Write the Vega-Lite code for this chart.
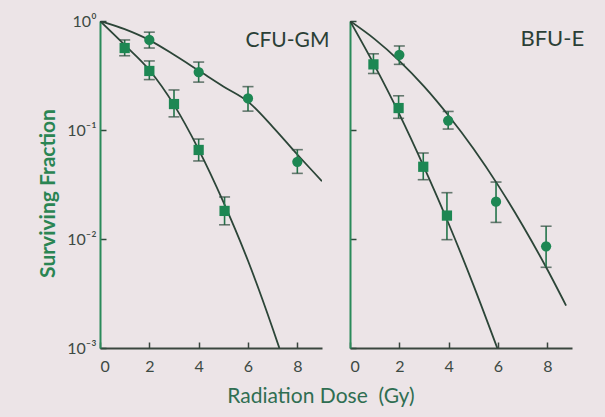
{
  "$schema": "https://vega.github.io/schema/vega-lite/v6.json",
  "background": "#ece4e7",
  "padding": {"left": 37, "top": 13, "right": 28, "bottom": 20},
  "spacing": 28,
  "bounds": "flush",
  "config": {
    "view": {"stroke": null},
    "font": "Lato",
    "axisX": {
      "title": null,
      "grid": false,
      "domainColor": "#3a463f",
      "domainWidth": 2,
      "tickColor": "#3a463f",
      "tickWidth": 1.5,
      "labelPadding": 16,
      "labelFontSize": 16,
      "labelColor": "#3d4a44",
      "labelFont": "Lato"
    },
    "axisY": {
      "grid": false,
      "domainColor": "#2a8a5a",
      "domainWidth": 2,
      "tickColor": "#2f4a3c",
      "tickWidth": 1.5,
      "tickSize": -6,
      "labelPadding": 10,
      "labelFontSize": 16,
      "labelColor": "#3d4a44",
      "labelFont": "Lato"
    }
  },
  "title": {
    "text": "Radiation Dose\u00a0\u00a0(Gy)",
    "orient": "bottom",
    "anchor": "middle",
    "fontSize": 21,
    "fontWeight": "normal",
    "font": "Lato",
    "color": "#2f6e52",
    "offset": 12,
    "dx": 10
  },
  "datasets": {
    "points": [
      {"panel": "CFU-GM", "cell": "sq", "dose": 1, "sf": 0.565, "lo": 0.48, "hi": 0.67},
      {"panel": "CFU-GM", "cell": "sq", "dose": 2, "sf": 0.348, "lo": 0.29, "hi": 0.43},
      {"panel": "CFU-GM", "cell": "sq", "dose": 3, "sf": 0.173, "lo": 0.132, "hi": 0.233},
      {"panel": "CFU-GM", "cell": "sq", "dose": 4, "sf": 0.0656, "lo": 0.052, "hi": 0.0826},
      {"panel": "CFU-GM", "cell": "sq", "dose": 5.05, "sf": 0.0181, "lo": 0.0135, "hi": 0.0243},
      {"panel": "CFU-GM", "cell": "ci", "dose": 2, "sf": 0.67, "lo": 0.565, "hi": 0.79},
      {"panel": "CFU-GM", "cell": "ci", "dose": 4, "sf": 0.34, "lo": 0.275, "hi": 0.42},
      {"panel": "CFU-GM", "cell": "ci", "dose": 6, "sf": 0.195, "lo": 0.149, "hi": 0.25},
      {"panel": "CFU-GM", "cell": "ci", "dose": 8, "sf": 0.051, "lo": 0.04, "hi": 0.066},
      {"panel": "BFU-E", "cell": "sq", "dose": 0.95, "sf": 0.4, "lo": 0.33, "hi": 0.5},
      {"panel": "BFU-E", "cell": "sq", "dose": 1.97, "sf": 0.159, "lo": 0.128, "hi": 0.206},
      {"panel": "BFU-E", "cell": "sq", "dose": 2.97, "sf": 0.046, "lo": 0.035, "hi": 0.0615},
      {"panel": "BFU-E", "cell": "sq", "dose": 3.93, "sf": 0.0164, "lo": 0.00986, "hi": 0.0266},
      {"panel": "BFU-E", "cell": "ci", "dose": 2, "sf": 0.49, "lo": 0.4, "hi": 0.59},
      {"panel": "BFU-E", "cell": "ci", "dose": 3.98, "sf": 0.122, "lo": 0.102, "hi": 0.148},
      {"panel": "BFU-E", "cell": "ci", "dose": 5.92, "sf": 0.022, "lo": 0.0142, "hi": 0.0333},
      {"panel": "BFU-E", "cell": "ci", "dose": 7.95, "sf": 0.00857, "lo": 0.0055, "hi": 0.0131}
    ],
    "curves": [
      {"panel": "CFU-GM", "cell": "ci", "dose": 0, "sf": 1},
      {"panel": "CFU-GM", "cell": "ci", "dose": 1, "sf": 0.841},
      {"panel": "CFU-GM", "cell": "ci", "dose": 2, "sf": 0.668},
      {"panel": "CFU-GM", "cell": "ci", "dose": 3, "sf": 0.49},
      {"panel": "CFU-GM", "cell": "ci", "dose": 4, "sf": 0.351},
      {"panel": "CFU-GM", "cell": "ci", "dose": 5, "sf": 0.251},
      {"panel": "CFU-GM", "cell": "ci", "dose": 6, "sf": 0.182},
      {"panel": "CFU-GM", "cell": "ci", "dose": 7, "sf": 0.107},
      {"panel": "CFU-GM", "cell": "ci", "dose": 8, "sf": 0.0596},
      {"panel": "CFU-GM", "cell": "ci", "dose": 9, "sf": 0.0339},
      {"panel": "CFU-GM", "cell": "sq", "dose": 0, "sf": 1},
      {"panel": "CFU-GM", "cell": "sq", "dose": 1, "sf": 0.603},
      {"panel": "CFU-GM", "cell": "sq", "dose": 2, "sf": 0.355},
      {"panel": "CFU-GM", "cell": "sq", "dose": 3, "sf": 0.17},
      {"panel": "CFU-GM", "cell": "sq", "dose": 4, "sf": 0.0661},
      {"panel": "CFU-GM", "cell": "sq", "dose": 5, "sf": 0.0219},
      {"panel": "CFU-GM", "cell": "sq", "dose": 6, "sf": 0.00631},
      {"panel": "CFU-GM", "cell": "sq", "dose": 7, "sf": 0.00151},
      {"panel": "CFU-GM", "cell": "sq", "dose": 7.27, "sf": 0.001},
      {"panel": "BFU-E", "cell": "ci", "dose": 0, "sf": 1},
      {"panel": "BFU-E", "cell": "ci", "dose": 1, "sf": 0.682},
      {"panel": "BFU-E", "cell": "ci", "dose": 2, "sf": 0.431},
      {"panel": "BFU-E", "cell": "ci", "dose": 3, "sf": 0.251},
      {"panel": "BFU-E", "cell": "ci", "dose": 4, "sf": 0.135},
      {"panel": "BFU-E", "cell": "ci", "dose": 5, "sf": 0.0676},
      {"panel": "BFU-E", "cell": "ci", "dose": 6, "sf": 0.0312},
      {"panel": "BFU-E", "cell": "ci", "dose": 7, "sf": 0.0133},
      {"panel": "BFU-E", "cell": "ci", "dose": 8, "sf": 0.00525},
      {"panel": "BFU-E", "cell": "ci", "dose": 8.76, "sf": 0.00245},
      {"panel": "BFU-E", "cell": "sq", "dose": 0, "sf": 1},
      {"panel": "BFU-E", "cell": "sq", "dose": 1, "sf": 0.389},
      {"panel": "BFU-E", "cell": "sq", "dose": 2, "sf": 0.14},
      {"panel": "BFU-E", "cell": "sq", "dose": 3, "sf": 0.0457},
      {"panel": "BFU-E", "cell": "sq", "dose": 4, "sf": 0.0138},
      {"panel": "BFU-E", "cell": "sq", "dose": 5, "sf": 0.0038},
      {"panel": "BFU-E", "cell": "sq", "dose": 5.97, "sf": 0.001}
    ],
    "labels": [
      {"panel": "CFU-GM", "dose": 7.6, "sf": 0.656, "label": "CFU-GM"},
      {"panel": "BFU-E", "dose": 8.2, "sf": 0.688, "label": "BFU-E"}
    ]
  },
  "hconcat": [
    {
      "width": 222,
      "height": 327,
      "layer": [
        {
          "data": {"name": "curves"},
          "transform": [{"filter": "datum.panel == 'CFU-GM'"}],
          "mark": {"type": "line", "color": "#2c4538", "strokeWidth": 1.8, "interpolate": "monotone", "clip": true},
          "encoding": {
            "x": {"field": "dose", "type": "quantitative", "scale": {"domain": [0, 9], "nice": false},
                  "axis": {"values": [0, 1, 2, 3, 4, 5, 6, 7, 8], "labelExpr": "datum.value % 2 == 0 ? datum.label : ''",
                           "tickSize": {"condition": {"test": "datum.value % 2 == 0", "value": -6}, "value": -3}}},
            "y": {"field": "sf", "type": "quantitative", "scale": {"type": "log", "domain": [0.001, 1], "nice": false},
                  "axis": {"values": [1, 0.1, 0.01, 0.001],
                           "labelExpr": "datum.value > 0.5 ? '10⁰' : datum.value > 0.05 ? '10⁻¹' : datum.value > 0.005 ? '10⁻²' : '10⁻³'",
                           "title": "Surviving Fraction", "titleFontSize": 21, "titleFontWeight": "bold", "titleColor": "#2a8553", "titleFont": "Lato", "titlePadding": 8, "titleY": 172}},
            "detail": {"field": "cell"}
          }
        },
        {
          "data": {"name": "points"},
          "transform": [{"filter": "datum.panel == 'CFU-GM'"}],
          "mark": {"type": "rule", "color": "#23744a", "strokeWidth": 1.6},
          "encoding": {
            "x": {"field": "dose", "type": "quantitative"},
            "y": {"field": "lo", "type": "quantitative"},
            "y2": {"field": "hi"}
          }
        },
        {
          "data": {"name": "points"},
          "transform": [{"filter": "datum.panel == 'CFU-GM'"}],
          "mark": {"type": "tick", "orient": "horizontal", "color": "#2c4a3c", "size": 11, "thickness": 1.6},
          "encoding": {
            "x": {"field": "dose", "type": "quantitative"},
            "y": {"field": "lo", "type": "quantitative"}
          }
        },
        {
          "data": {"name": "points"},
          "transform": [{"filter": "datum.panel == 'CFU-GM'"}],
          "mark": {"type": "tick", "orient": "horizontal", "color": "#2c4a3c", "size": 11, "thickness": 1.6},
          "encoding": {
            "x": {"field": "dose", "type": "quantitative"},
            "y": {"field": "hi", "type": "quantitative"}
          }
        },
        {
          "data": {"name": "points"},
          "transform": [{"filter": "datum.panel == 'CFU-GM'"}],
          "mark": {"type": "point", "filled": true, "color": "#1d8753", "opacity": 1},
          "encoding": {
            "x": {"field": "dose", "type": "quantitative"},
            "y": {"field": "sf", "type": "quantitative"},
            "shape": {"field": "cell", "type": "nominal", "scale": {"domain": ["ci", "sq"], "range": ["circle", "square"]}, "legend": null},
            "size": {"field": "cell", "type": "nominal", "scale": {"domain": ["ci", "sq"], "range": [105, 105]}, "legend": null}
          }
        },
        {
          "data": {"name": "labels"},
          "transform": [{"filter": "datum.panel == 'CFU-GM'"}],
          "mark": {"type": "text", "fontSize": 21, "font": "Lato", "color": "#2b3f36", "align": "center", "baseline": "middle"},
          "encoding": {
            "x": {"field": "dose", "type": "quantitative"},
            "y": {"field": "sf", "type": "quantitative"},
            "text": {"field": "label"}
          }
        }
      ]
    },
    {
      "width": 222,
      "height": 327,
      "layer": [
        {
          "data": {"name": "curves"},
          "transform": [{"filter": "datum.panel == 'BFU-E'"}],
          "mark": {"type": "line", "color": "#2c4538", "strokeWidth": 1.8, "interpolate": "monotone", "clip": true},
          "encoding": {
            "x": {"field": "dose", "type": "quantitative", "scale": {"domain": [0, 9], "nice": false},
                  "axis": {"values": [0, 1, 2, 3, 4, 5, 6, 7, 8], "labelExpr": "datum.value % 2 == 0 ? datum.label : ''",
                           "tickSize": {"condition": {"test": "datum.value % 2 == 0", "value": -6}, "value": -3}}},
            "y": {"field": "sf", "type": "quantitative", "scale": {"type": "log", "domain": [0.001, 1], "nice": false},
                  "axis": {"values": [1, 0.1, 0.01, 0.001], "title": null, "labels": false}},
            "detail": {"field": "cell"}
          }
        },
        {
          "data": {"name": "points"},
          "transform": [{"filter": "datum.panel == 'BFU-E'"}],
          "mark": {"type": "rule", "color": "#23744a", "strokeWidth": 1.6},
          "encoding": {
            "x": {"field": "dose", "type": "quantitative"},
            "y": {"field": "lo", "type": "quantitative"},
            "y2": {"field": "hi"}
          }
        },
        {
          "data": {"name": "points"},
          "transform": [{"filter": "datum.panel == 'BFU-E'"}],
          "mark": {"type": "tick", "orient": "horizontal", "color": "#2c4a3c", "size": 11, "thickness": 1.6},
          "encoding": {
            "x": {"field": "dose", "type": "quantitative"},
            "y": {"field": "lo", "type": "quantitative"}
          }
        },
        {
          "data": {"name": "points"},
          "transform": [{"filter": "datum.panel == 'BFU-E'"}],
          "mark": {"type": "tick", "orient": "horizontal", "color": "#2c4a3c", "size": 11, "thickness": 1.6},
          "encoding": {
            "x": {"field": "dose", "type": "quantitative"},
            "y": {"field": "hi", "type": "quantitative"}
          }
        },
        {
          "data": {"name": "points"},
          "transform": [{"filter": "datum.panel == 'BFU-E'"}],
          "mark": {"type": "point", "filled": true, "color": "#1d8753", "opacity": 1},
          "encoding": {
            "x": {"field": "dose", "type": "quantitative"},
            "y": {"field": "sf", "type": "quantitative"},
            "shape": {"field": "cell", "type": "nominal", "scale": {"domain": ["ci", "sq"], "range": ["circle", "square"]}, "legend": null},
            "size": {"field": "cell", "type": "nominal", "scale": {"domain": ["ci", "sq"], "range": [105, 105]}, "legend": null}
          }
        },
        {
          "data": {"name": "labels"},
          "transform": [{"filter": "datum.panel == 'BFU-E'"}],
          "mark": {"type": "text", "fontSize": 22, "font": "Lato", "color": "#2b3f36", "align": "center", "baseline": "middle"},
          "encoding": {
            "x": {"field": "dose", "type": "quantitative"},
            "y": {"field": "sf", "type": "quantitative"},
            "text": {"field": "label"}
          }
        }
      ]
    }
  ]
}
